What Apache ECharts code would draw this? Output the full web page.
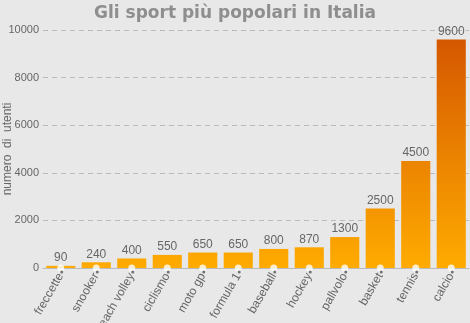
<!DOCTYPE html>
<html>
<head>
<meta charset="utf-8">
<script src="https://cdn.jsdelivr.net/npm/echarts@6/dist/echarts.min.js"></script>
<style>
  html, body { margin: 0; padding: 0; background: #e8e8e8; }
  #chart { width: 470px; height: 323px; }
</style>
</head>
<body>
<div id="chart"></div>
<script>
// Sport categories and number of users
const sports = ['freccette', 'snooker', 'beach volley', 'ciclismo', 'moto gp', 'formula 1',
                'baseball', 'hockey', 'pallvolo', 'basket', 'tennis', 'calcio'];
const users = [90, 240, 400, 550, 650, 650, 800, 870, 1300, 2500, 4500, 9600];
const yTicks = [0, 2000, 4000, 6000, 8000, 10000];

const chart = echarts.init(document.getElementById('chart'));

// Bar colour darkens with height (gradient in canvas coordinates)
const barGradient = new echarts.graphic.LinearGradient(0, 30, 0, 268, [
  { offset: 0, color: '#d35400' },
  { offset: 1, color: '#ffab00' }
], true);

chart.setOption({
  backgroundColor: '#e8e8e8',
  animation: false,
  title: {
    text: 'Gli sport più popolari in Italia',
    left: 'center',
    top: 0,
    textStyle: { fontFamily: 'DejaVu Sans', fontWeight: 900, fontSize: 17, color: '#8e8e8e' }
  },
  grid: { left: 43, right: 1, top: 30, bottom: 55, containLabel: false, outerBoundsMode: 'none' },
  xAxis: {
    type: 'category',
    data: sports,
    axisLine: { lineStyle: { color: '#bbbbbb' } },
    axisTick: { show: false },
    axisLabel: {
      rotate: 60,
      interval: 0,
      margin: 6,
      color: '#666666',
      fontSize: 12,
      fontFamily: 'Liberation Sans'
    }
  },
  yAxis: {
    type: 'value',
    min: yTicks[0],
    max: yTicks[yTicks.length - 1],
    interval: 2000,
    name: 'numero  di  utenti',
    nameLocation: 'middle',
    nameGap: 29,
    nameMoveOverlap: false,
    nameTextStyle: { color: '#666666', fontSize: 12, fontFamily: 'Liberation Sans' },
    axisLine: { show: false },
    axisTick: { show: false },
    axisLabel: {
      color: '#666666', fontSize: 11, fontFamily: 'Liberation Sans', margin: 4,
      formatter: (v) => String(v)
    },
    splitLine: { lineStyle: { color: '#bbbbbb', type: [5, 4] } }
  },
  series: [
    {
      type: 'bar',
      data: users,
      barCategoryGap: '18%',
      itemStyle: { color: barGradient },
      label: {
        show: true,
        position: 'top',
        distance: 2,
        color: '#666666',
        fontSize: 12,
        fontFamily: 'Liberation Sans'
      },
      z: 2
    },
    {
      // category markers on the baseline
      type: 'scatter',
      data: sports.map(() => 0),
      symbol: 'circle',
      symbolSize: 7,
      itemStyle: { color: '#ffffff' },
      silent: true,
      z: 3
    },
    {
      type: 'scatter',
      data: sports.map(() => 0),
      symbol: 'circle',
      symbolSize: 3,
      symbolOffset: [1, 4],
      itemStyle: { color: '#555555' },
      silent: true,
      z: 4
    }
  ]
});
</script>
</body>
</html>
